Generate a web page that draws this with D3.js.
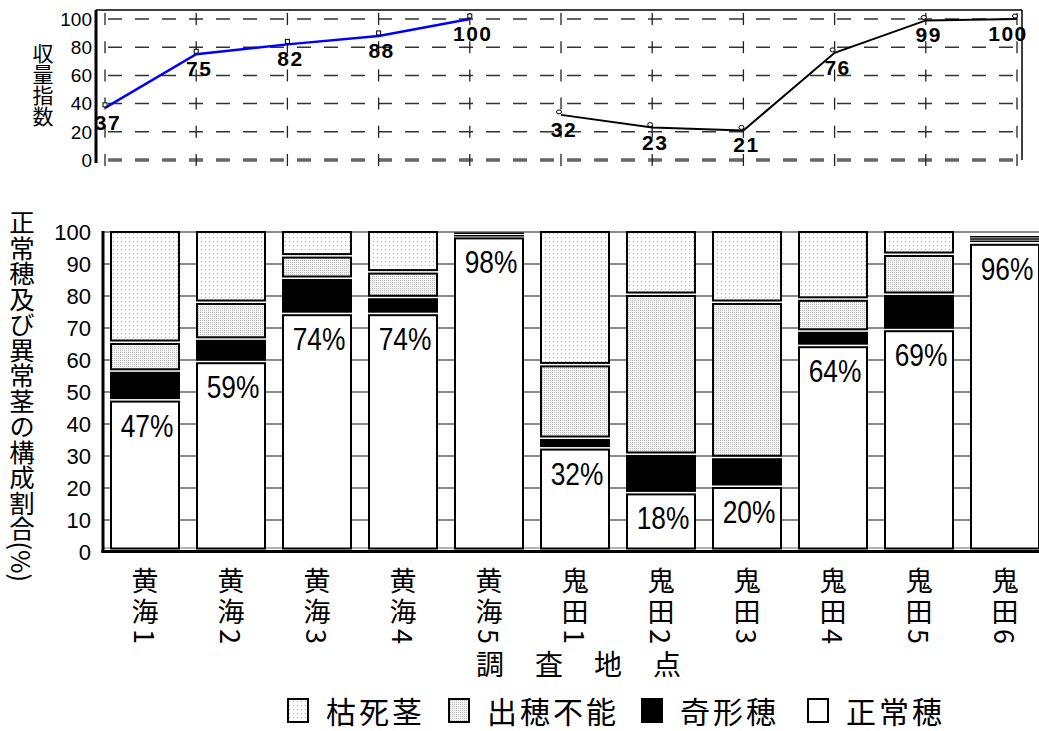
<!DOCTYPE html>
<html><head><meta charset="utf-8">
<script src="https://cdn.jsdelivr.net/npm/d3@7"></script>
<style>
body{margin:0;background:#fff;}
svg{display:block;}
text{font-family:"Liberation Sans",Arial,sans-serif;fill:#000;}
.cjk{font-family:"Noto Sans CJK JP","Noto Sans CJK SC",sans-serif;}
.vert{writing-mode:vertical-rl;}
</style></head><body>
<svg id="chart" width="1039" height="731"></svg>
<script>
// survey sites
const sites = ["黄海1","黄海2","黄海3","黄海4","黄海5","鬼田1","鬼田2","鬼田3","鬼田4","鬼田5","鬼田6"];
// yield index, two separate districts
const koukaiSites = ["黄海1","黄海2","黄海3","黄海4","黄海5"];
const koukaiYield = [37,75,82,88,100];
const onidaSites = ["鬼田1","鬼田2","鬼田3","鬼田4","鬼田5","鬼田6"];
const onidaYield = [32,23,21,76,99,100];
// composition of stems (%), bottom to top
const normalEar   = [47,59,74,74,98,32,18,20,64,69,96];
const deformedEar = [9,7,11,5,0.8,3,12,9,4.5,11,1.1];
const noHeading   = [9,11.5,7,8,0.8,23,50,48.5,10,12.5,0.7];
const deadStem    = [35,22.5,8,13,0,42,20,22.5,21.5,7.5,0.7];
const yieldTicks = [0,20,40,60,80,100];
const pctTicks = [0,10,20,30,40,50,60,70,80,90,100];
const seriesNames = ["正常穂","奇形穂","出穂不能","枯死茎"];
const legendOrder = ["枯死茎","出穂不能","奇形穂","正常穂"];

const svg = d3.select("#chart");

// fill patterns for the dotted categories
const defs = svg.append("defs");
const pDead = defs.append("pattern").attr("id","pat-dead").attr("patternUnits","userSpaceOnUse").attr("width",4).attr("height",4);
pDead.append("rect").attr("width",4).attr("height",4).attr("fill","#fff");
pDead.append("rect").attr("x",1).attr("y",1).attr("width",1).attr("height",1).attr("fill","#b4b4b4");
const pNo = defs.append("pattern").attr("id","pat-nohead").attr("patternUnits","userSpaceOnUse").attr("width",2).attr("height",2);
pNo.append("rect").attr("width",2).attr("height",2).attr("fill","#f4f4f4");
pNo.append("rect").attr("width",1).attr("height",1).attr("fill","#bdbdbd");
const fills = {"正常穂":"#fff","奇形穂":"#000","出穂不能":"url(#pat-nohead)","枯死茎":"url(#pat-dead)"};

/* ---------- upper panel: yield index ---------- */
const xTop = d3.scalePoint().domain(sites).range([105,1017]);
const yTop = d3.scaleLinear().domain([0,100]).range([160,19]);
const topL = 96, topR = 1022, topT = 10;

const gTop = svg.append("g");
// dashed horizontal grid
gTop.selectAll("line.hg").data(yieldTicks).join("line")
  .attr("x1",topL).attr("x2",topR)
  .attr("y1",d=>yTop(d)).attr("y2",d=>yTop(d))
  .attr("stroke",d=>d===0?"#666":"#333")
  .attr("stroke-width",d=>d===0?3.5:1.5)
  .attr("stroke-dasharray","14,13")
  .attr("stroke-dashoffset",-12);
// short vertical crosses at every site / tick
const crosses = [];
sites.forEach(s=>yieldTicks.forEach(v=>crosses.push({s,v})));
gTop.selectAll("line.vg").data(crosses).join("line")
  .attr("x1",d=>xTop(d.s)).attr("x2",d=>xTop(d.s))
  .attr("y1",d=>yTop(d.v)-6).attr("y2",d=>yTop(d.v)+6)
  .attr("stroke","#222").attr("stroke-width",1.3);
// frame
gTop.append("line").attr("x1",topL).attr("x2",topR).attr("y1",topT).attr("y2",topT).attr("stroke","#000").attr("stroke-width",1.5);
gTop.append("line").attr("x1",topR).attr("x2",topR).attr("y1",topT).attr("y2",yTop(0)).attr("stroke","#000").attr("stroke-width",1.5);
gTop.append("line").attr("x1",topL).attr("x2",topL).attr("y1",topT).attr("y2",163).attr("stroke","#000").attr("stroke-width",3);
// tick labels
gTop.selectAll("text.yt").data(yieldTicks).join("text")
  .attr("x",92).attr("y",d=>yTop(d)).attr("dy","0.36em")
  .attr("text-anchor","end").attr("font-size",19).text(d=>d);
// axis title
gTop.append("text").attr("class","cjk vert").attr("x",43).attr("y",43)
  .attr("font-size",21).text("収量指数");

function drawYield(siteList, values, color, width, markerShape){
  const pts = siteList.map((s,i)=>({s, v:values[i]}));
  const line = d3.line().x(d=>xTop(d.s)).y(d=>yTop(d.v));
  gTop.append("path").datum(pts).attr("d",line)
    .attr("fill","none").attr("stroke",color).attr("stroke-width",width);
  if(markerShape==="square"){
    gTop.selectAll(null).data(pts).join("rect")
      .attr("x",d=>xTop(d.s)-2).attr("y",d=>yTop(d.v)-5)
      .attr("width",4).attr("height",4)
      .attr("fill","#fff").attr("stroke","#000").attr("stroke-width",1);
  } else {
    gTop.selectAll(null).data(pts).join("ellipse")
      .attr("cx",d=>xTop(d.s)-2).attr("cy",d=>yTop(d.v)-3)
      .attr("rx",2.5).attr("ry",2)
      .attr("fill","#fff").attr("stroke","#000").attr("stroke-width",1);
  }
  gTop.selectAll(null).data(pts).join("text")
    .attr("x",d=>Math.min(xTop(d.s)+3,1008)).attr("y",d=>yTop(d.v)+22)
    .attr("text-anchor","middle").attr("font-size",21).attr("font-weight","bold")
    .attr("letter-spacing",1.5).text(d=>d.v);
}
drawYield(koukaiSites, koukaiYield, "#0000ff", 2.5, "square");
drawYield(onidaSites, onidaYield, "#000", 2, "circle");

/* ---------- lower panel: stem composition ---------- */
const xBar = d3.scalePoint().domain(sites).range([145,1005]);
const yBar = d3.scaleLinear().domain([0,100]).range([552,232]);
const barW = 68, segGap = 3.5;
const plotL = 103, plotR = 1039;

const gBar = svg.append("g");
gBar.selectAll("line.grid").data(pctTicks.filter(d=>d>0)).join("line")
  .attr("x1",plotL).attr("x2",plotR)
  .attr("y1",d=>yBar(d)).attr("y2",d=>yBar(d))
  .attr("stroke","#8c8c8c").attr("stroke-width",2);
gBar.append("line").attr("x1",plotL).attr("x2",plotR)
  .attr("y1",yBar(0)-4).attr("y2",yBar(0)-4)
  .attr("stroke","#9a9a9a").attr("stroke-width",1.5);

const table = sites.map((s,i)=>({site:s,"正常穂":normalEar[i],"奇形穂":deformedEar[i],"出穂不能":noHeading[i],"枯死茎":deadStem[i]}));
const stacked = d3.stack().keys(seriesNames)(table);

stacked.forEach(layer=>{
  const key = layer.key;
  const g = gBar.append("g");
  layer.forEach(seg=>{
    const lo = seg[0], hi = seg[1];
    if(hi - lo <= 0) return;
    const x0 = xBar(seg.data.site) - barW/2;
    const yTopPx = yBar(hi);
    const h = yBar(lo) - yBar(hi) - segGap;
    if(h < 1){
      g.append("line").attr("x1",x0-1).attr("x2",x0+barW+1)
        .attr("y1",yTopPx).attr("y2",yTopPx)
        .attr("stroke","#000").attr("stroke-width",1.5);
    } else {
      g.append("rect").attr("x",x0).attr("y",yTopPx)
        .attr("width",barW).attr("height",h)
        .attr("fill",fills[key]).attr("stroke","#000").attr("stroke-width",2);
    }
  });
});

// axes lines
gBar.append("line").attr("x1",plotL).attr("x2",plotL).attr("y1",231).attr("y2",553)
  .attr("stroke","#000").attr("stroke-width",3);
gBar.append("line").attr("x1",plotL-1.5).attr("x2",plotR).attr("y1",551.5).attr("y2",551.5)
  .attr("stroke","#000").attr("stroke-width",3);

// tick labels
gBar.selectAll("text.yt").data(pctTicks).join("text")
  .attr("x",91).attr("y",d=>yBar(d)).attr("dy","0.36em")
  .attr("text-anchor","end").attr("font-size",22).text(d=>d);

// normal-ear percentage labels
gBar.selectAll("text.pct").data(table).join("text")
  .attr("transform",d=>`translate(${xBar(d.site)+2},${yBar(d["正常穂"])+35}) scale(0.85,1)`)
  .attr("text-anchor","middle").attr("font-size",31)
  .text(d=>d["正常穂"]+"%");

// site labels (vertical)
gBar.selectAll("text.site").data(sites).join("text")
  .attr("class","cjk vert").attr("x",d=>xBar(d)).attr("y",567)
  .attr("font-size",27).attr("letter-spacing",4).text(d=>d);

// axis titles
svg.append("text").attr("class","cjk vert").attr("x",22).attr("y",210)
  .attr("font-size",25.5).text("正常穂及び異常茎の構成割合(%)");
svg.append("text").attr("class","cjk").attr("x",594).attr("y",675)
  .attr("text-anchor","middle").attr("font-size",28).attr("letter-spacing",31)
  .text("調査地点");

// legend
const legX = [288,449,642,808];
const gLeg = svg.append("g");
legendOrder.forEach((k,i)=>{
  gLeg.append("rect").attr("x",legX[i]).attr("y",699).attr("width",20).attr("height",23)
    .attr("fill",fills[k]).attr("stroke","#000").attr("stroke-width",2);
  gLeg.append("text").attr("class","cjk").attr("x",legX[i]+38).attr("y",723)
    .attr("font-size",30).attr("letter-spacing",3).text(k);
});
</script>
</body></html>
